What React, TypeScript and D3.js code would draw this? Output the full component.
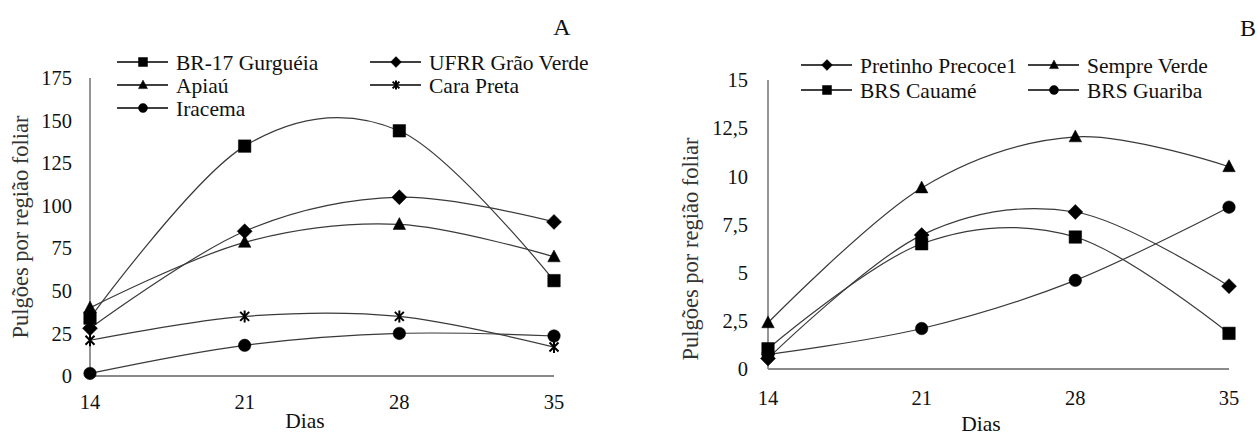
import { useEffect, useRef } from "react"
import * as d3 from "d3"

// dias de avaliação
const days = [14, 21, 28, 35]

// painel A
const namesA = ["BR-17 Gurguéia", "UFRR Grão Verde", "Apiaú", "Cara Preta", "Iracema"]
const gurgueia = [34, 135, 144, 56]
const graoVerde = [28, 85, 105, 90.5]
const apiau = [40, 78.5, 89, 70]
const caraPreta = [21, 35, 35, 17]
const iracema = [1.5, 18, 25, 23.5]
const ticksA = [0, 25, 50, 75, 100, 125, 150, 175]

// painel B
const namesB = ["Pretinho Precoce1", "Sempre Verde", "BRS Cauamé", "BRS Guariba"]
const pretinho = [0.55, 6.95, 8.15, 4.3]
const sempreVerde = [2.4, 9.4, 12.05, 10.5]
const cauame = [1.05, 6.5, 6.85, 1.85]
const guariba = [0.75, 2.1, 4.6, 8.4]
const ticksB = [0, 2.5, 5, 7.5, 10, 12.5, 15]

const FONT = '"Liberation Serif", "Times New Roman", "DejaVu Serif", serif'

const markerPath = (type, s) => {
    const h = s / 2
    if (type === "square") return `M${-h},${-h}h${s}v${s}h${-s}Z`
    if (type === "diamond") return `M0,${-h * 1.2}L${h * 1.2},0L0,${h * 1.2}L${-h * 1.2},0Z`
    if (type === "triangle") return `M0,${-s * 0.55}L${h},${s * 0.4}L${-h},${s * 0.4}Z`
    if (type === "circle") return `M${h},0A${h},${h} 0 1,1 ${-h},0A${h},${h} 0 1,1 ${h},0Z`
    const a = h * 0.75
    return `M${-a},${-a}L${a},${a}M${-a},${a}L${a},${-a}M0,${-h}L0,${h}`
}

const drawMarker = (g, type, x, y, s) => {
    g.append("path")
        .attr("d", markerPath(type, s))
        .attr("transform", `translate(${x},${y})`)
        .attr("fill", type === "star" ? "none" : "#000")
        .attr("stroke", "#000")
        .attr("stroke-width", type === "star" ? 2 : 0.5)
}

const drawPanel = (svg, p) => {
    const x = d3.scaleLinear().domain([14, 35]).range(p.xRange)
    const y = d3.scaleLinear().domain(p.yDomain).range(p.yRange)
    const g = svg.append("g")
    const fmt = (d) => String(d).replace(".", ",")

    // eixos
    g.append("line")
        .attr("x1", x(14)).attr("x2", x(14))
        .attr("y1", y(p.yDomain[0])).attr("y2", y(p.yDomain[1]))
        .attr("stroke", "#8a8a8a").attr("stroke-width", 1.8)
    g.append("line")
        .attr("x1", x(14)).attr("x2", x(35))
        .attr("y1", y(0)).attr("y2", y(0))
        .attr("stroke", "#8a8a8a").attr("stroke-width", 1.8)

    g.selectAll("text.ytick")
        .data(p.ticks)
        .enter()
        .append("text")
        .attr("class", "ytick")
        .attr("x", p.yLabelX)
        .attr("y", (d) => y(d))
        .attr("dy", "0.35em")
        .attr("text-anchor", "end")
        .attr("font-size", 20.5)
        .text(fmt)

    g.selectAll("text.xtick")
        .data(days)
        .enter()
        .append("text")
        .attr("class", "xtick")
        .attr("x", (d) => x(d))
        .attr("y", p.xLabelY)
        .attr("dy", "0.35em")
        .attr("text-anchor", "middle")
        .attr("font-size", 20.5)
        .text((d) => d)

    g.append("text")
        .attr("x", p.diasX).attr("y", p.diasY)
        .attr("dy", "0.35em")
        .attr("text-anchor", "middle")
        .text("Dias")

    g.append("text")
        .attr("transform", `translate(${p.titleX},${p.titleY}) rotate(-90)`)
        .attr("dy", "0.35em")
        .attr("text-anchor", "middle")
        .attr("fill", "#333")
        .attr("font-size", 22.5)
        .text("Pulgões por região foliar")

    g.append("text")
        .attr("x", p.letterX).attr("y", p.letterY)
        .attr("dy", "0.35em")
        .attr("text-anchor", "middle")
        .attr("font-size", 24)
        .text(p.letter)

    const line = d3.line()
        .x((d, i) => x(days[i]))
        .y((d) => y(d))
        .curve(d3.curveCardinal.tension(0))

    p.series.forEach((vals) => {
        g.append("path")
            .attr("d", line(vals))
            .attr("fill", "none")
            .attr("stroke", "#3a3a3a")
            .attr("stroke-width", 1.2)
    })
    p.series.forEach((vals, k) => {
        vals.forEach((v, i) => drawMarker(g, p.markers[k], x(days[i]), y(v), p.markers[k] === "star" ? 12 : 12.5))
    })

    // legenda
    p.names.forEach((name, k) => {
        const col = k % 2
        const row = Math.floor(k / 2)
        const lx = p.legendX[col]
        const ly = p.legendY + row * p.legendStep
        g.append("line")
            .attr("x1", lx).attr("x2", lx + 51)
            .attr("y1", ly).attr("y2", ly)
            .attr("stroke", "#000").attr("stroke-width", 1.3)
        drawMarker(g, p.markers[k], lx + 26, ly, 9)
        g.append("text")
            .attr("x", lx + 59).attr("y", ly)
            .attr("dy", "0.35em")
            .text(name)
    })
}

const App = () => {
    const ref = useRef(null)

    useEffect(() => {
        const svg = d3.select(ref.current)
        svg.selectAll("*").remove()
        svg.attr("font-size", 21.5).attr("fill", "#111")

        drawPanel(svg, {
            letter: "A",
            xRange: [90, 554],
            yDomain: [0, 175],
            yRange: [376, 78],
            ticks: ticksA,
            yLabelX: 72,
            xLabelY: 402,
            diasX: 305,
            diasY: 420,
            titleX: 20,
            titleY: 227,
            letterX: 562,
            letterY: 27,
            names: namesA,
            series: [gurgueia, graoVerde, apiau, caraPreta, iracema],
            markers: ["square", "diamond", "triangle", "star", "circle"],
            legendX: [117, 370],
            legendY: 62,
            legendStep: 23,
        })

        drawPanel(svg, {
            letter: "B",
            xRange: [768, 1229],
            yDomain: [0, 15],
            yRange: [369, 80],
            ticks: ticksB,
            yLabelX: 748,
            xLabelY: 398,
            diasX: 981,
            diasY: 423,
            titleX: 690,
            titleY: 249,
            letterX: 1248,
            letterY: 28,
            names: namesB,
            series: [pretinho, sempreVerde, cauame, guariba],
            markers: ["diamond", "triangle", "square", "circle"],
            legendX: [801, 1028],
            legendY: 65,
            legendStep: 25,
        })
    }, [])

    return (
        <div style={{ position: "absolute", left: 0, top: 0 }}>
            <svg ref={ref} width={1258} height={437} style={{ display: "block", background: "#fff", fontFamily: FONT }} />
        </div>
    )
}

export default App
